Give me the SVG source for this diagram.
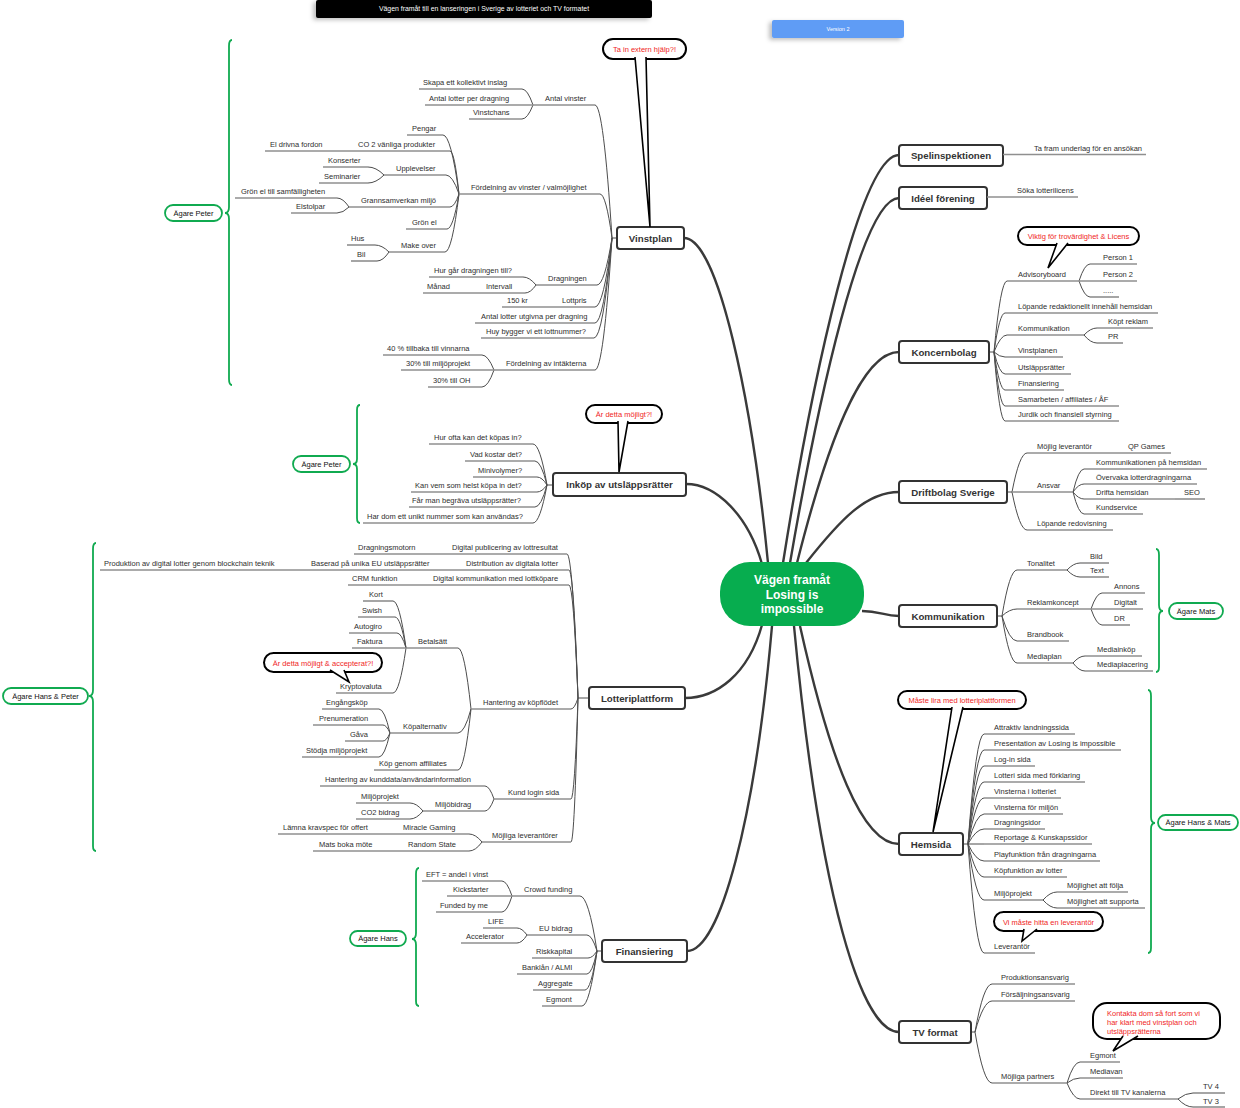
<svg xmlns="http://www.w3.org/2000/svg" width="1240" height="1108" viewBox="0 0 1240 1108">
<defs>
<filter id="sh" x="-10%" y="-40%" width="120%" height="180%"><feDropShadow dx="-3" dy="2" stdDeviation="2" flood-color="#000" flood-opacity="0.25"/></filter>
</defs>
<style>
.t{font-family:"Liberation Sans",Arial,sans-serif;font-size:7.5px;fill:#2e2e2e}
.u{stroke:#8f8f8f;stroke-width:1.6;fill:none}
.c{stroke:#4d4d4d;stroke-width:1;fill:none}
.mc{stroke:#3a3a3a;stroke-width:2.4;fill:none}
.mb{fill:#fff;stroke:#333;stroke-width:2}
.mt{font-family:"Liberation Sans",Arial,sans-serif;font-size:9.7px;font-weight:bold;fill:#333;text-anchor:middle}
.cb{fill:#fff;stroke:#000;stroke-width:2}
.ct{font-family:"Liberation Sans",Arial,sans-serif;font-size:7.5px;fill:#f01e1e;text-anchor:middle}
.ctl{font-family:"Liberation Sans",Arial,sans-serif;font-size:7.5px;fill:#f01e1e}
.gb{fill:none;stroke:#10aa50;stroke-width:1.8}
.gp{fill:#fff;stroke:#10aa50;stroke-width:1.8}
.gt{font-family:"Liberation Sans",Arial,sans-serif;font-size:7.5px;fill:#111;text-anchor:middle}
.cen{font-family:"Liberation Sans",Arial,sans-serif;font-size:12px;font-weight:bold;fill:#fff;text-anchor:middle}
</style>
<rect width="1240" height="1108" fill="#fff"/>

<g id="title">
<rect x="316" y="0" width="336" height="18" rx="2" fill="#000" filter="url(#sh)"/>
<text x="484" y="10.8" font-family="Liberation Sans, Arial, sans-serif" font-size="6.9" fill="#fff" text-anchor="middle">Vägen framåt till en lanseringen i Sverige av lotteriet och TV formatet</text>
</g>
<g id="version">
<rect x="772" y="20" width="132" height="18" rx="2" fill="#5e9cf5" filter="url(#sh)"/>
<text x="838" y="30.5" font-family="Liberation Sans, Arial, sans-serif" font-size="5.5" fill="#fff" text-anchor="middle">Version 2</text>
</g>

<g id="connectors">
<path class="mc" d="M768 563 C752 400 718 238 684 238"/>
<path class="mc" d="M762 564 C748 515 716 484 686 484"/>
<path class="mc" d="M762 625 C748 675 716 698 685 698"/>
<path class="mc" d="M772 626 C755 820 720 951 687 951"/>
<path class="mc" d="M783 563 C812 380 860 155 899 155"/>
<path class="mc" d="M790 563 C818 400 862 198 899 198"/>
<path class="mc" d="M797 563 C828 440 862 352 899 352"/>
<path class="mc" d="M806 563 C840 520 866 492 899 492"/>
<path class="mc" d="M862 611 C880 611 884 616 899 616"/>
<path class="mc" d="M800 626 C830 760 862 844 899 844"/>
<path class="mc" d="M794 626 C820 900 862 1032 899 1032"/>
<path class="c" d="M612 238H617M547 485H553M578 698H589M597 951H602M989 352H994M1007 492H1012M997 616H1002M963 844H968M971 1032H975"/>
<path class="c" d="M595 105 Q603.5 105 612 238"/>
<path class="c" d="M600 194 Q606 194 612 238"/>
<path class="c" d="M597 285 Q604.5 285 612 238"/>
<path class="c" d="M595 307 Q603.5 307 612 238"/>
<path class="c" d="M595 323 Q603.5 323 612 238"/>
<path class="c" d="M594 338 Q603 338 612 238"/>
<path class="c" d="M595 370 Q603.5 370 612 238"/>
<path class="c" d="M522 89 Q527.5 89 533 105"/>
<path class="c" d="M522 119 Q527.5 119 533 105"/>
<path class="c" d="M443 135 Q451 135 459 194"/>
<path class="c" d="M450 151 Q454.5 151 459 194"/>
<path class="c" d="M446 175 Q452.5 175 459 194"/>
<path class="c" d="M368 167 Q376 167 384 175"/>
<path class="c" d="M368 183 Q376 183 384 175"/>
<path class="c" d="M450 207 Q454.5 207 459 194"/>
<path class="c" d="M337 198 Q343 198 349 207"/>
<path class="c" d="M337 213 Q343 213 349 207"/>
<path class="c" d="M447 229 Q453 229 459 194"/>
<path class="c" d="M445 252 Q452 252 459 194"/>
<path class="c" d="M375 245 Q382 245 389 252"/>
<path class="c" d="M377 261 Q383 261 389 252"/>
<path class="c" d="M523 277 Q529.5 277 536 285"/>
<path class="c" d="M525 293 Q530.5 293 536 285"/>
<path class="c" d="M482 355 Q488 355 494 370"/>
<path class="c" d="M482 387 Q488 387 494 370"/>
<path class="c" d="M533 444 Q540 444 547 485"/>
<path class="c" d="M535 461 Q541 461 547 485"/>
<path class="c" d="M537 477 Q542 477 547 485"/>
<path class="c" d="M537 492 Q542 492 547 485"/>
<path class="c" d="M535 507 Q541 507 547 485"/>
<path class="c" d="M533 523 Q540 523 547 485"/>
<path class="c" d="M567 554 Q572.5 554 578 698"/>
<path class="c" d="M569 570 Q573.5 570 578 698"/>
<path class="c" d="M569 585 Q573.5 585 578 698"/>
<path class="c" d="M571 709 Q574.5 709 578 698"/>
<path class="c" d="M571 799 Q574.5 799 578 698"/>
<path class="c" d="M571 842 Q574.5 842 578 698"/>
<path class="c" d="M458 648 Q464.5 648 471 709"/>
<path class="c" d="M458 733 Q464.5 733 471 709"/>
<path class="c" d="M458 770 Q464.5 770 471 709"/>
<path class="c" d="M393 601 Q399.5 601 406 648"/>
<path class="c" d="M395 617 Q400.5 617 406 648"/>
<path class="c" d="M397 633 Q401.5 633 406 648"/>
<path class="c" d="M393 693 Q399.5 693 406 648"/>
<path class="c" d="M379 709 Q384.5 709 390 733"/>
<path class="c" d="M383 725 Q386.5 725 390 733"/>
<path class="c" d="M383 741 Q386.5 741 390 733"/>
<path class="c" d="M379 757 Q384.5 757 390 733"/>
<path class="c" d="M485 786 Q489.5 786 494 799"/>
<path class="c" d="M485 811 Q489.5 811 494 799"/>
<path class="c" d="M410 803 Q416.5 803 423 811"/>
<path class="c" d="M410 819 Q416.5 819 423 811"/>
<path class="c" d="M469 834 Q475.5 834 482 842"/>
<path class="c" d="M469 851 Q475.5 851 482 842"/>
<path class="c" d="M580 896 Q588.5 896 597 951"/>
<path class="c" d="M587 935 Q592 935 597 951"/>
<path class="c" d="M588 958 Q592.5 958 597 951"/>
<path class="c" d="M587 974 Q592 974 597 951"/>
<path class="c" d="M585 990 Q591 990 597 951"/>
<path class="c" d="M582 1006 Q589.5 1006 597 951"/>
<path class="c" d="M502 881 Q507 881 512 896"/>
<path class="c" d="M502 912 Q507 912 512 896"/>
<path class="c" d="M517 928 Q522 928 527 935"/>
<path class="c" d="M517 943 Q522 943 527 935"/>
<path class="c" d="M994 352 Q1000.5 281 1007 281"/>
<path class="c" d="M994 352 Q999.5 313 1005 313"/>
<path class="c" d="M994 352 Q1000.5 335 1007 335"/>
<path class="c" d="M994 352 Q999.5 357 1005 357"/>
<path class="c" d="M994 352 Q999.5 374 1005 374"/>
<path class="c" d="M994 352 Q999.5 390 1005 390"/>
<path class="c" d="M994 352 Q999.5 406 1005 406"/>
<path class="c" d="M994 352 Q999.5 421 1005 421"/>
<path class="c" d="M1079 281 Q1084.5 264 1090 264"/>
<path class="c" d="M1079 281 Q1084.5 297 1090 297"/>
<path class="c" d="M1084 335 Q1090.5 328 1097 328"/>
<path class="c" d="M1084 335 Q1090.5 343 1097 343"/>
<path class="c" d="M1012 492 Q1019.5 453 1027 453"/>
<path class="c" d="M1012 492 Q1019.5 530 1027 530"/>
<path class="c" d="M1073 492 Q1078.5 469 1084 469"/>
<path class="c" d="M1073 492 Q1078.5 484 1084 484"/>
<path class="c" d="M1073 492 Q1078.5 499 1084 499"/>
<path class="c" d="M1073 492 Q1078.5 514 1084 514"/>
<path class="c" d="M1002 616 Q1009.5 570 1017 570"/>
<path class="c" d="M1002 616 Q1009.5 609 1017 609"/>
<path class="c" d="M1002 616 Q1009.5 641 1017 641"/>
<path class="c" d="M1002 616 Q1009.5 663 1017 663"/>
<path class="c" d="M1067 570 Q1073.5 563 1080 563"/>
<path class="c" d="M1067 570 Q1073.5 577 1080 577"/>
<path class="c" d="M1091 609 Q1096.5 593 1102 593"/>
<path class="c" d="M1091 609 Q1096.5 625 1102 625"/>
<path class="c" d="M1073 663 Q1079 656 1085 656"/>
<path class="c" d="M1073 663 Q1079 671 1085 671"/>
<path class="c" d="M968 844 Q976 734 984 734"/>
<path class="c" d="M968 844 Q976 750 984 750"/>
<path class="c" d="M968 844 Q976 766 984 766"/>
<path class="c" d="M968 844 Q976 782 984 782"/>
<path class="c" d="M968 844 Q976 798 984 798"/>
<path class="c" d="M968 844 Q976 814 984 814"/>
<path class="c" d="M968 844 Q976 829 984 829"/>
<path class="c" d="M968 844 Q976 844 984 844"/>
<path class="c" d="M968 844 Q976 861 984 861"/>
<path class="c" d="M968 844 Q976 877 984 877"/>
<path class="c" d="M968 844 Q976 900 984 900"/>
<path class="c" d="M968 844 Q976 953 984 953"/>
<path class="c" d="M1043 900 Q1050 892 1057 892"/>
<path class="c" d="M1043 900 Q1050 908 1057 908"/>
<path class="c" d="M975 1032 Q983.5 984 992 984"/>
<path class="c" d="M975 1032 Q983.5 1001 992 1001"/>
<path class="c" d="M975 1032 Q983.5 1083 992 1083"/>
<path class="c" d="M1067 1083 Q1073.5 1062 1080 1062"/>
<path class="c" d="M1067 1083 Q1073.5 1078 1080 1078"/>
<path class="c" d="M1067 1083 Q1073.5 1099 1080 1099"/>
<path class="c" d="M1178 1099 Q1185.5 1093 1193 1093"/>
<path class="c" d="M1178 1099 Q1185.5 1107 1193 1107"/>
</g>

<g id="center">
<rect x="720" y="562" width="144" height="64" rx="30" fill="#07ad4f"/>
<text class="cen" x="792" y="584">Vägen framåt</text>
<text class="cen" x="792" y="599">Losing is</text>
<text class="cen" x="792" y="613">impossible</text>
</g>

<g id="vinstplan"><rect class="mb" x="617" y="227" width="67" height="22" rx="3"/><text class="mt" x="650.5" y="241.5">Vinstplan</text></g>
<g id="v-antal-vinster"><line class="u" x1="533" y1="105" x2="595" y2="105"/><text class="t" x="545" y="101">Antal vinster</text></g>
<g id="v-skapa"><line class="u" x1="419" y1="89" x2="522" y2="89"/><text class="t" x="423" y="85">Skapa ett kollektivt inslag</text></g>
<g id="v-antal-lotter"><line class="u" x1="425" y1="105" x2="533" y2="105"/><text class="t" x="429" y="101">Antal lotter per dragning</text></g>
<g id="v-vinstchans"><line class="u" x1="469" y1="119" x2="522" y2="119"/><text class="t" x="473" y="115">Vinstchans</text></g>
<g id="v-fordelning-vinster"><line class="u" x1="459" y1="194" x2="600" y2="194"/><text class="t" x="471" y="190">Fördelning av vinster / valmöjlighet</text></g>
<g id="v-pengar"><line class="u" x1="407" y1="135" x2="443" y2="135"/><text class="t" x="412" y="131">Pengar</text></g>
<g id="v-co2"><line class="u" x1="350" y1="151" x2="450" y2="151"/><text class="t" x="358" y="147">CO 2 vänliga produkter</text></g>
<g id="v-eldrivna"><line class="u" x1="265" y1="151" x2="350" y2="151"/><text class="t" x="270" y="147">El drivna fordon</text></g>
<g id="v-upplevelser"><line class="u" x1="384" y1="175" x2="446" y2="175"/><text class="t" x="396" y="171">Upplevelser</text></g>
<g id="v-konserter"><line class="u" x1="323" y1="167" x2="368" y2="167"/><text class="t" x="328" y="163">Konserter</text></g>
<g id="v-seminarier"><line class="u" x1="319" y1="183" x2="368" y2="183"/><text class="t" x="324" y="179">Seminarier</text></g>
<g id="v-grannsamverkan"><line class="u" x1="349" y1="207" x2="450" y2="207"/><text class="t" x="361" y="203">Grannsamverkan miljö</text></g>
<g id="v-gronel-samf"><line class="u" x1="235" y1="198" x2="337" y2="198"/><text class="t" x="241" y="194">Grön el till samfälligheten</text></g>
<g id="v-elstolpar"><line class="u" x1="291" y1="213" x2="337" y2="213"/><text class="t" x="296" y="209">Elstolpar</text></g>
<g id="v-gronel"><line class="u" x1="406" y1="229" x2="447" y2="229"/><text class="t" x="412" y="225">Grön el</text></g>
<g id="v-makeover"><line class="u" x1="389" y1="252" x2="445" y2="252"/><text class="t" x="401" y="248">Make over</text></g>
<g id="v-hus"><line class="u" x1="347" y1="245" x2="375" y2="245"/><text class="t" x="351" y="241">Hus</text></g>
<g id="v-bil"><line class="u" x1="351" y1="261" x2="377" y2="261"/><text class="t" x="357" y="257">Bil</text></g>
<g id="v-dragningen"><line class="u" x1="536" y1="285" x2="597" y2="285"/><text class="t" x="548" y="281">Dragningen</text></g>
<g id="v-hurgar"><line class="u" x1="429" y1="277" x2="523" y2="277"/><text class="t" x="434" y="273">Hur går dragningen till?</text></g>
<g id="v-intervall"><line class="u" x1="478" y1="293" x2="525" y2="293"/><text class="t" x="486" y="289">Intervall</text></g>
<g id="v-manad"><line class="u" x1="423" y1="293" x2="478" y2="293"/><text class="t" x="427" y="289">Månad</text></g>
<g id="v-lottpris"><line class="u" x1="550" y1="307" x2="595" y2="307"/><text class="t" x="562" y="303">Lottpris</text></g>
<g id="v-150kr"><line class="u" x1="502" y1="307" x2="550" y2="307"/><text class="t" x="507" y="303">150 kr</text></g>
<g id="v-antal-utgivna"><line class="u" x1="475" y1="323" x2="595" y2="323"/><text class="t" x="481" y="319">Antal lotter utgivna per dragning</text></g>
<g id="v-huy"><line class="u" x1="481" y1="338" x2="594" y2="338"/><text class="t" x="486" y="334">Huy bygger vi ett lottnummer?</text></g>
<g id="v-fordelning-intakter"><line class="u" x1="494" y1="370" x2="595" y2="370"/><text class="t" x="506" y="366">Fördelning av intäkterna</text></g>
<g id="v-40"><line class="u" x1="383" y1="355" x2="482" y2="355"/><text class="t" x="387" y="351">40 % tillbaka till vinnarna</text></g>
<g id="v-30miljo"><line class="u" x1="401" y1="370" x2="494" y2="370"/><text class="t" x="406" y="366">30% till miljöprojekt</text></g>
<g id="v-30oh"><line class="u" x1="428" y1="387" x2="482" y2="387"/><text class="t" x="433" y="383">30% till OH</text></g>
<g id="v-callout">
<rect class="cb" x="603" y="39" width="83" height="20" rx="10"/>
<path d="M635 57 L650 227 L646 57" fill="#fff" stroke="#000" stroke-width="1.6"/>
<text class="ct" x="644.5" y="52">Ta in extern hjälp?!</text>
</g>
<g id="v-owner">
<path class="gb" d="M232 40 Q229 40 229 46 L229 207 Q229 213 225 213 Q229 213 229 219 L229 379 Q229 385 232 385"/>
<rect class="gp" x="165" y="205" width="57" height="16" rx="8"/><text class="gt" x="193.5" y="215.5">Ägare Peter</text>
</g>

<g id="inkop"><rect class="mb" x="553" y="473" width="133" height="23" rx="3"/><text class="mt" x="619.5" y="488">Inköp av utsläppsrätter</text></g>
<g id="i-hurofta"><line class="u" x1="429" y1="444" x2="533" y2="444"/><text class="t" x="434" y="440">Hur ofta kan det köpas in?</text></g>
<g id="i-vadkostar"><line class="u" x1="465" y1="461" x2="535" y2="461"/><text class="t" x="470" y="457">Vad kostar det?</text></g>
<g id="i-minivolymer"><line class="u" x1="473" y1="477" x2="537" y2="477"/><text class="t" x="478" y="473">Minivolymer?</text></g>
<g id="i-kanvem"><line class="u" x1="411" y1="492" x2="537" y2="492"/><text class="t" x="415" y="488">Kan vem som helst köpa in det?</text></g>
<g id="i-begrava"><line class="u" x1="409" y1="507" x2="535" y2="507"/><text class="t" x="412" y="503">Får man begräva utsläppsrätter?</text></g>
<g id="i-unikt"><line class="u" x1="363" y1="523" x2="533" y2="523"/><text class="t" x="367" y="519">Har dom ett unikt nummer som kan användas?</text></g>
<g id="i-callout">
<rect class="cb" x="586" y="405" width="76" height="18" rx="9"/>
<path d="M618 421 L619 472 L628 421" fill="#fff" stroke="#000" stroke-width="1.6"/>
<text class="ct" x="624" y="417">Är detta möjligt?!</text>
</g>
<g id="i-owner">
<path class="gb" d="M360 405 Q357 405 357 410 L357 459 Q357 464 353 464 Q357 464 357 469 L357 518 Q357 523 360 523"/>
<rect class="gp" x="293" y="456" width="57" height="16" rx="8"/><text class="gt" x="321.5" y="466.5">Ägare Peter</text>
</g>

<g id="lotteriplattform"><rect class="mb" x="589" y="687" width="96" height="22" rx="3"/><text class="mt" x="637" y="701.5">Lotteriplattform</text></g>
<g id="l-digpub"><line class="u" x1="446" y1="554" x2="567" y2="554"/><text class="t" x="452" y="550">Digital publicering av lottresultat</text></g>
<g id="l-dragmotor"><line class="u" x1="354" y1="554" x2="446" y2="554"/><text class="t" x="358" y="550">Dragningsmotorn</text></g>
<g id="l-distribution"><line class="u" x1="460" y1="570" x2="569" y2="570"/><text class="t" x="466" y="566">Distribution av digitala lotter</text></g>
<g id="l-baserad"><line class="u" x1="304" y1="570" x2="460" y2="570"/><text class="t" x="311" y="566">Baserad på unika EU utsläppsrätter</text></g>
<g id="l-produktion"><line class="u" x1="100" y1="570" x2="304" y2="570"/><text class="t" x="104" y="566">Produktion av digital lotter genom blockchain teknik</text></g>
<g id="l-digkom"><line class="u" x1="427" y1="585" x2="569" y2="585"/><text class="t" x="433" y="581">Digital kommunikation med lottköpare</text></g>
<g id="l-crm"><line class="u" x1="348" y1="585" x2="427" y2="585"/><text class="t" x="352" y="581">CRM funktion</text></g>
<g id="l-hantering"><line class="u" x1="471" y1="709" x2="571" y2="709"/><text class="t" x="483" y="705">Hantering av köpflödet</text></g>
<g id="l-betalsatt"><line class="u" x1="406" y1="648" x2="458" y2="648"/><text class="t" x="418" y="644">Betalsätt</text></g>
<g id="l-kort"><line class="u" x1="363" y1="601" x2="393" y2="601"/><text class="t" x="369" y="597">Kort</text></g>
<g id="l-swish"><line class="u" x1="358" y1="617" x2="395" y2="617"/><text class="t" x="362" y="613">Swish</text></g>
<g id="l-autogiro"><line class="u" x1="349" y1="633" x2="397" y2="633"/><text class="t" x="354" y="629">Autogiro</text></g>
<g id="l-faktura"><line class="u" x1="352" y1="648" x2="406" y2="648"/><text class="t" x="357" y="644">Faktura</text></g>
<g id="l-krypto"><line class="u" x1="336" y1="693" x2="393" y2="693"/><text class="t" x="340" y="689">Kryptovaluta</text></g>
<g id="l-kopalternativ"><line class="u" x1="390" y1="733" x2="458" y2="733"/><text class="t" x="403" y="729">Köpalternativ</text></g>
<g id="l-engangskop"><line class="u" x1="322" y1="709" x2="379" y2="709"/><text class="t" x="326" y="705">Engångsköp</text></g>
<g id="l-prenumeration"><line class="u" x1="313" y1="725" x2="383" y2="725"/><text class="t" x="319" y="721">Prenumeration</text></g>
<g id="l-gava"><line class="u" x1="345" y1="741" x2="383" y2="741"/><text class="t" x="350" y="737">Gåva</text></g>
<g id="l-stodja"><line class="u" x1="302" y1="757" x2="379" y2="757"/><text class="t" x="306" y="753">Stödja miljöprojekt</text></g>
<g id="l-affiliates"><line class="u" x1="374" y1="770" x2="458" y2="770"/><text class="t" x="379" y="766">Köp genom affiliates</text></g>
<g id="l-kundlogin"><line class="u" x1="494" y1="799" x2="571" y2="799"/><text class="t" x="508" y="795">Kund login sida</text></g>
<g id="l-kunddata"><line class="u" x1="320" y1="786" x2="485" y2="786"/><text class="t" x="325" y="782">Hantering av kunddata/användarinformation</text></g>
<g id="l-miljobidrag"><line class="u" x1="423" y1="811" x2="485" y2="811"/><text class="t" x="435" y="807">Miljöbidrag</text></g>
<g id="l-miljoprojekt"><line class="u" x1="356" y1="803" x2="410" y2="803"/><text class="t" x="361" y="799">Miljöprojekt</text></g>
<g id="l-co2bidrag"><line class="u" x1="356" y1="819" x2="410" y2="819"/><text class="t" x="361" y="815">CO2 bidrag</text></g>
<g id="l-leverantorer"><line class="u" x1="482" y1="842" x2="571" y2="842"/><text class="t" x="492" y="838">Möjliga leverantörer</text></g>
<g id="l-miracle"><line class="u" x1="397" y1="834" x2="469" y2="834"/><text class="t" x="403" y="830">Miracle Gaming</text></g>
<g id="l-lamna"><line class="u" x1="278" y1="834" x2="397" y2="834"/><text class="t" x="283" y="830">Lämna kravspec för offert</text></g>
<g id="l-random"><line class="u" x1="402" y1="851" x2="469" y2="851"/><text class="t" x="408" y="847">Random State</text></g>
<g id="l-mats"><line class="u" x1="313" y1="851" x2="402" y2="851"/><text class="t" x="319" y="847">Mats boka möte</text></g>
<g id="l-callout">
<rect class="cb" x="264" y="653" width="118" height="19" rx="9.5"/>
<path d="M330 670 L349 682 L344 670" fill="#fff" stroke="#000" stroke-width="1.6"/>
<text class="ct" x="323" y="665.5">Är detta möjligt &amp; accepterat?!</text>
</g>
<g id="l-owner">
<path class="gb" d="M96 543 Q93 543 93 549 L93 690 Q93 696 89 696 Q93 696 93 702 L93 846 Q93 851 96 851"/>
<rect class="gp" x="3" y="688" width="85" height="16" rx="8"/><text class="gt" x="45.5" y="698.5">Ägare Hans &amp; Peter</text>
</g>

<g id="finansiering"><rect class="mb" x="602" y="940" width="85" height="22" rx="3"/><text class="mt" x="644.5" y="954.5">Finansiering</text></g>
<g id="f-crowd"><line class="u" x1="512" y1="896" x2="580" y2="896"/><text class="t" x="524" y="892">Crowd funding</text></g>
<g id="f-eft"><line class="u" x1="422" y1="881" x2="502" y2="881"/><text class="t" x="426" y="877">EFT = andel i vinst</text></g>
<g id="f-kickstarter"><line class="u" x1="447" y1="896" x2="512" y2="896"/><text class="t" x="453" y="892">Kickstarter</text></g>
<g id="f-funded"><line class="u" x1="436" y1="912" x2="502" y2="912"/><text class="t" x="440" y="908">Funded by me</text></g>
<g id="f-eubidrag"><line class="u" x1="527" y1="935" x2="587" y2="935"/><text class="t" x="539" y="931">EU bidrag</text></g>
<g id="f-life"><line class="u" x1="483" y1="928" x2="517" y2="928"/><text class="t" x="488" y="924">LIFE</text></g>
<g id="f-accelerator"><line class="u" x1="461" y1="943" x2="517" y2="943"/><text class="t" x="466" y="939">Accelerator</text></g>
<g id="f-riskkapital"><line class="u" x1="532" y1="958" x2="588" y2="958"/><text class="t" x="536" y="954">Riskkapital</text></g>
<g id="f-banklan"><line class="u" x1="517" y1="974" x2="587" y2="974"/><text class="t" x="522" y="970">Banklån / ALMI</text></g>
<g id="f-aggregate"><line class="u" x1="533" y1="990" x2="585" y2="990"/><text class="t" x="538" y="986">Aggregate</text></g>
<g id="f-egmont"><line class="u" x1="542" y1="1006" x2="582" y2="1006"/><text class="t" x="546" y="1002">Egmont</text></g>
<g id="f-owner">
<path class="gb" d="M419 868 Q416 868 416 874 L416 933 Q416 939 412 939 Q416 939 416 945 L416 1001 Q416 1006 419 1006"/>
<rect class="gp" x="350" y="931" width="56" height="15" rx="7.5"/><text class="gt" x="378" y="941">Ägare Hans</text>
</g>

<g id="spelinspektionen"><rect class="mb" x="899" y="145" width="104" height="21" rx="3"/><text class="mt" x="951" y="159">Spelinspektionen</text></g>
<g id="s-tafram"><line class="u" x1="1003" y1="154.5" x2="1146" y2="154.5"/><text class="t" x="1034" y="150.5">Ta fram underlag för en ansökan</text></g>
<g id="ideel"><rect class="mb" x="899" y="187" width="88" height="22" rx="3"/><text class="mt" x="943" y="201.5">Idéel förening</text></g>
<g id="id-soka"><line class="u" x1="987" y1="197" x2="1078" y2="197"/><text class="t" x="1017" y="193">Söka lotterilicens</text></g>

<g id="koncernbolag"><rect class="mb" x="899" y="341" width="90" height="22" rx="3"/><text class="mt" x="944" y="355.5">Koncernbolag</text></g>
<g id="k-advisory"><line class="u" x1="1007" y1="281" x2="1079" y2="281"/><text class="t" x="1018" y="277">Advisoryboard</text></g>
<g id="k-person1"><line class="u" x1="1090" y1="264" x2="1137" y2="264"/><text class="t" x="1103" y="260">Person 1</text></g>
<g id="k-person2"><line class="u" x1="1079" y1="281" x2="1137" y2="281"/><text class="t" x="1103" y="277">Person 2</text></g>
<g id="k-dots"><line class="u" x1="1090" y1="297" x2="1119" y2="297"/><text class="t" x="1103" y="293">.....</text></g>
<g id="k-lopande"><line class="u" x1="1005" y1="313" x2="1158" y2="313"/><text class="t" x="1018" y="309">Löpande redaktionellt innehåll hemsidan</text></g>
<g id="k-kommunikation"><line class="u" x1="1007" y1="335" x2="1084" y2="335"/><text class="t" x="1018" y="331">Kommunikation</text></g>
<g id="k-kopt"><line class="u" x1="1097" y1="328" x2="1153" y2="328"/><text class="t" x="1108" y="324">Köpt reklam</text></g>
<g id="k-pr"><line class="u" x1="1097" y1="343" x2="1123" y2="343"/><text class="t" x="1108" y="339">PR</text></g>
<g id="k-vinstplanen"><line class="u" x1="1005" y1="357" x2="1063" y2="357"/><text class="t" x="1018" y="353">Vinstplanen</text></g>
<g id="k-utslapp"><line class="u" x1="1005" y1="374" x2="1071" y2="374"/><text class="t" x="1018" y="370">Utsläppsrätter</text></g>
<g id="k-finansiering"><line class="u" x1="1005" y1="390" x2="1064" y2="390"/><text class="t" x="1018" y="386">Finansiering</text></g>
<g id="k-samarbeten"><line class="u" x1="1005" y1="406" x2="1119" y2="406"/><text class="t" x="1018" y="402">Samarbeten / affiliates / ÅF</text></g>
<g id="k-jurdik"><line class="u" x1="1005" y1="421" x2="1119" y2="421"/><text class="t" x="1018" y="417">Jurdik och finansiell styrning</text></g>
<g id="k-callout">
<rect class="cb" x="1018" y="227" width="121" height="18" rx="9"/>
<path d="M1057 243 L1048 268 L1068 243" fill="#fff" stroke="#000" stroke-width="1.6"/>
<text class="ct" x="1078.5" y="239">Viktig för trovärdighet &amp; Licens</text>
</g>

<g id="driftbolag"><rect class="mb" x="899" y="481" width="108" height="22" rx="3"/><text class="mt" x="953" y="495.5">Driftbolag Sverige</text></g>
<g id="d-mojlig"><line class="u" x1="1027" y1="453" x2="1120" y2="453"/><text class="t" x="1037" y="449">Möjlig leverantör</text></g>
<g id="d-qp"><line class="u" x1="1120" y1="453" x2="1171" y2="453"/><text class="t" x="1128" y="449">QP Games</text></g>
<g id="d-ansvar"><line class="u" x1="1012" y1="492" x2="1073" y2="492"/><text class="t" x="1037" y="488">Ansvar</text></g>
<g id="d-komhem"><line class="u" x1="1084" y1="469" x2="1207" y2="469"/><text class="t" x="1096" y="465">Kommunikationen på hemsidan</text></g>
<g id="d-overvaka"><line class="u" x1="1084" y1="484" x2="1197" y2="484"/><text class="t" x="1096" y="480">Övervaka lotterdragningarna</text></g>
<g id="d-drifta"><line class="u" x1="1084" y1="499" x2="1175" y2="499"/><text class="t" x="1096" y="495">Drifta hemsidan</text></g>
<g id="d-seo"><line class="u" x1="1175" y1="499" x2="1205" y2="499"/><text class="t" x="1184" y="495">SEO</text></g>
<g id="d-kundservice"><line class="u" x1="1084" y1="514" x2="1143" y2="514"/><text class="t" x="1096" y="510">Kundservice</text></g>
<g id="d-redovisning"><line class="u" x1="1027" y1="530" x2="1113" y2="530"/><text class="t" x="1037" y="526">Löpande redovisning</text></g>

<g id="kommunikation"><rect class="mb" x="899" y="605" width="98" height="22" rx="3"/><text class="mt" x="948" y="619.5">Kommunikation</text></g>
<g id="c-tonalitet"><line class="u" x1="1017" y1="570" x2="1067" y2="570"/><text class="t" x="1027" y="566">Tonalitet</text></g>
<g id="c-bild"><line class="u" x1="1080" y1="563" x2="1109" y2="563"/><text class="t" x="1090" y="559">Bild</text></g>
<g id="c-text"><line class="u" x1="1080" y1="577" x2="1109" y2="577"/><text class="t" x="1090" y="573">Text</text></g>
<g id="c-reklam"><line class="u" x1="1017" y1="609" x2="1091" y2="609"/><text class="t" x="1027" y="605">Reklamkoncept</text></g>
<g id="c-annons"><line class="u" x1="1102" y1="593" x2="1145" y2="593"/><text class="t" x="1114" y="589">Annons</text></g>
<g id="c-digitalt"><line class="u" x1="1091" y1="609" x2="1143" y2="609"/><text class="t" x="1114" y="605">Digitalt</text></g>
<g id="c-dr"><line class="u" x1="1102" y1="625" x2="1130" y2="625"/><text class="t" x="1114" y="621">DR</text></g>
<g id="c-brandbook"><line class="u" x1="1017" y1="641" x2="1069" y2="641"/><text class="t" x="1027" y="637">Brandbook</text></g>
<g id="c-mediaplan"><line class="u" x1="1017" y1="663" x2="1073" y2="663"/><text class="t" x="1027" y="659">Mediaplan</text></g>
<g id="c-mediainkop"><line class="u" x1="1085" y1="656" x2="1142" y2="656"/><text class="t" x="1097" y="652">Mediainköp</text></g>
<g id="c-mediaplacering"><line class="u" x1="1085" y1="671" x2="1153" y2="671"/><text class="t" x="1097" y="667">Mediaplacering</text></g>
<g id="c-owner">
<path class="gb" d="M1156 549 Q1159 549 1159 555 L1159 605 Q1159 611 1163 611 Q1159 611 1159 617 L1159 667 Q1159 672 1156 672"/>
<rect class="gp" x="1169" y="603" width="54" height="16" rx="8"/><text class="gt" x="1196" y="613.5">Ägare Mats</text>
</g>

<g id="hemsida"><rect class="mb" x="899" y="833" width="64" height="22" rx="3"/><text class="mt" x="931" y="847.5">Hemsida</text></g>
<g id="h-attraktiv"><line class="u" x1="984" y1="734" x2="1075" y2="734"/><text class="t" x="994" y="730">Attraktiv landningssida</text></g>
<g id="h-presentation"><line class="u" x1="984" y1="750" x2="1121" y2="750"/><text class="t" x="994" y="746">Presentation av Losing is impossible</text></g>
<g id="h-login"><line class="u" x1="984" y1="766" x2="1035" y2="766"/><text class="t" x="994" y="762">Log-in sida</text></g>
<g id="h-lotteri"><line class="u" x1="984" y1="782" x2="1085" y2="782"/><text class="t" x="994" y="778">Lotteri sida med förklaring</text></g>
<g id="h-vinsterna-lott"><line class="u" x1="984" y1="798" x2="1061" y2="798"/><text class="t" x="994" y="794">Vinsterna i lotteriet</text></g>
<g id="h-vinsterna-miljo"><line class="u" x1="984" y1="814" x2="1063" y2="814"/><text class="t" x="994" y="810">Vinsterna för miljön</text></g>
<g id="h-dragningsidor"><line class="u" x1="984" y1="829" x2="1045" y2="829"/><text class="t" x="994" y="825">Dragningsidor</text></g>
<g id="h-reportage"><line class="u" x1="984" y1="844" x2="1092" y2="844"/><text class="t" x="994" y="840">Reportage &amp; Kunskapssidor</text></g>
<g id="h-playfunktion"><line class="u" x1="984" y1="861" x2="1100" y2="861"/><text class="t" x="994" y="857">Playfunktion från dragningarna</text></g>
<g id="h-kopfunktion"><line class="u" x1="984" y1="877" x2="1067" y2="877"/><text class="t" x="994" y="873">Köpfunktion av lotter</text></g>
<g id="h-miljoprojekt"><line class="u" x1="984" y1="900" x2="1043" y2="900"/><text class="t" x="994" y="896">Miljöprojekt</text></g>
<g id="h-folja"><line class="u" x1="1057" y1="892" x2="1128" y2="892"/><text class="t" x="1067" y="888">Möjlighet att följa</text></g>
<g id="h-supporta"><line class="u" x1="1057" y1="908" x2="1145" y2="908"/><text class="t" x="1067" y="904">Möjlighet att supporta</text></g>
<g id="h-leverantor"><line class="u" x1="984" y1="953" x2="1035" y2="953"/><text class="t" x="994" y="949">Leverantör</text></g>
<g id="h-callout1">
<rect class="cb" x="898" y="691" width="128" height="18" rx="9"/>
<path d="M952 707 L933 832 L963 707" fill="#fff" stroke="#000" stroke-width="1.6"/>
<text class="ct" x="962" y="703">Måste lira med lotteriplattformen</text>
</g>
<g id="h-callout2">
<rect class="cb" x="994" y="912" width="109" height="19" rx="9.5"/>
<path d="M1024 929 L1022 941 L1037 929" fill="#fff" stroke="#000" stroke-width="1.6"/>
<text class="ct" x="1048.5" y="924.5">Vi måste hitta en leverantör</text>
</g>
<g id="h-owner">
<path class="gb" d="M1148 690 Q1151 690 1151 696 L1151 817 Q1151 823 1155 823 Q1151 823 1151 829 L1151 948 Q1151 953 1148 953"/>
<rect class="gp" x="1158" y="815" width="80" height="15" rx="7.5"/><text class="gt" x="1198" y="825">Ägare Hans &amp; Mats</text>
</g>

<g id="tvformat"><rect class="mb" x="899" y="1021" width="72" height="22" rx="3"/><text class="mt" x="935" y="1035.5">TV format</text></g>
<g id="t-produktion"><line class="u" x1="992" y1="984" x2="1075" y2="984"/><text class="t" x="1001" y="980">Produktionsansvarig</text></g>
<g id="t-forsaljning"><line class="u" x1="992" y1="1001" x2="1075" y2="1001"/><text class="t" x="1001" y="997">Försäljningsansvarig</text></g>
<g id="t-partners"><line class="u" x1="992" y1="1083" x2="1067" y2="1083"/><text class="t" x="1001" y="1079">Möjliga partners</text></g>
<g id="t-egmont"><line class="u" x1="1080" y1="1062" x2="1120" y2="1062"/><text class="t" x="1090" y="1058">Egmont</text></g>
<g id="t-mediavan"><line class="u" x1="1080" y1="1078" x2="1123" y2="1078"/><text class="t" x="1090" y="1074">Mediavan</text></g>
<g id="t-direkt"><line class="u" x1="1080" y1="1099" x2="1178" y2="1099"/><text class="t" x="1090" y="1095">Direkt till TV kanalerna</text></g>
<g id="t-tv4"><line class="u" x1="1193" y1="1093" x2="1225" y2="1093"/><text class="t" x="1203" y="1089">TV 4</text></g>
<g id="t-tv3"><line class="u" x1="1193" y1="1107" x2="1225" y2="1107"/><text class="t" x="1203" y="1104">TV 3</text></g>
<g id="t-callout">
<rect class="cb" x="1093" y="1003" width="127" height="36" rx="14"/>
<path d="M1123 1036 L1113 1051 L1138 1036" fill="#fff" stroke="#000" stroke-width="1.6"/>
<text class="ctl" x="1107" y="1016">Kontakta dom så fort som vi</text>
<text class="ctl" x="1107" y="1025">har klart med vinstplan och</text>
<text class="ctl" x="1107" y="1034">utsläppsrätterna</text>
</g>
</svg>
